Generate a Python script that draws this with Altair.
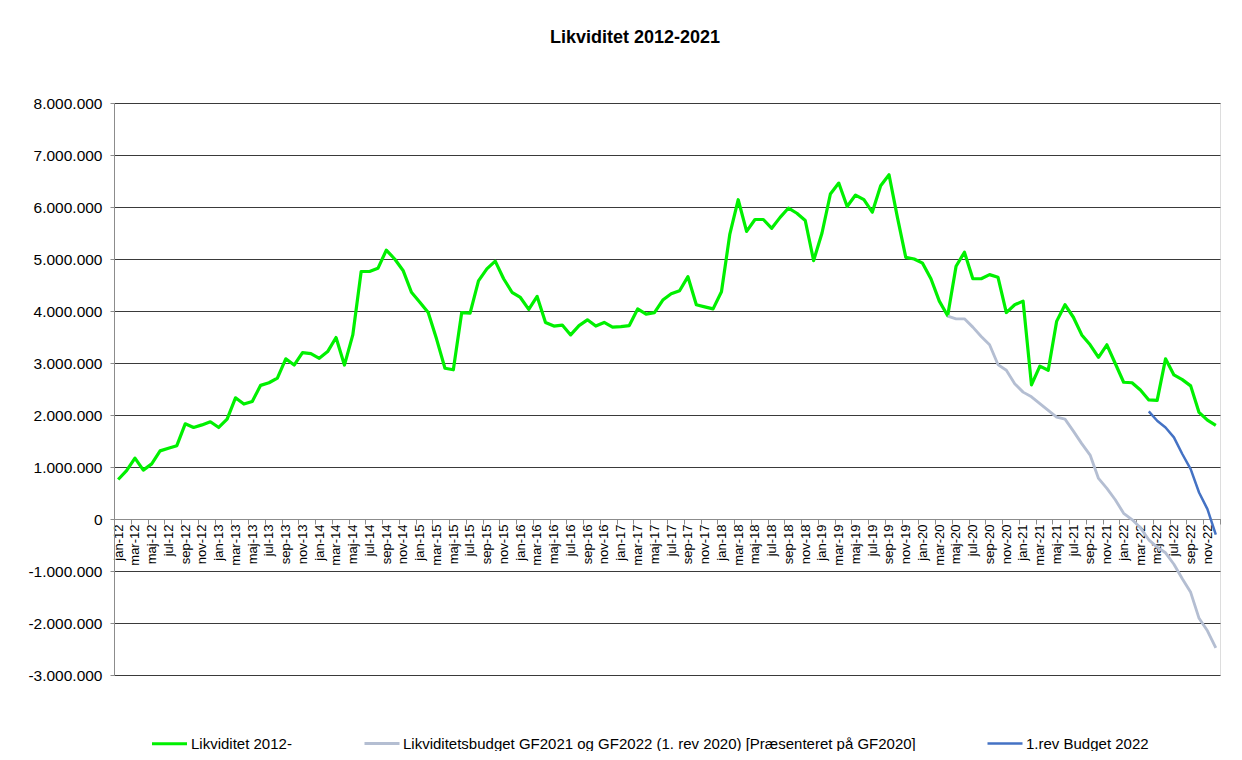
import json
import altair as alt
import pandas as pd

# ---------------- data ----------------
months_da = ["jan", "feb", "mar", "apr", "maj", "jun", "jul", "aug", "sep", "okt", "nov", "dec"]
years = [12, 13, 14, 15, 16, 17, 18, 19, 20, 21, 22]
month_labels = [f"{m}-{y}" for y in years for m in months_da]  # jan-12 .. dec-22

# Likviditet 2012- (mio. kr), jan-12 .. dec-22
likviditet = [
    0.76, 0.93, 1.17, 0.94, 1.06, 1.31, 1.36, 1.41, 1.83, 1.76, 1.81, 1.87,   # 2012
    1.76, 1.92, 2.33, 2.21, 2.26, 2.57, 2.62, 2.71, 3.08, 2.96, 3.20, 3.18,   # 2013
    3.09, 3.22, 3.49, 2.96, 3.54, 4.76, 4.76, 4.82, 5.17, 5.00, 4.78, 4.36,   # 2014
    4.17, 3.97, 3.46, 2.90, 2.87, 3.97, 3.96, 4.58, 4.81, 4.96, 4.62, 4.36,   # 2015
    4.26, 4.03, 4.28, 3.78, 3.71, 3.73, 3.54, 3.72, 3.83, 3.71, 3.78, 3.69,   # 2016
    3.70, 3.72, 4.04, 3.94, 3.97, 4.21, 4.33, 4.39, 4.66, 4.12, 4.08, 4.04,   # 2017
    4.37, 5.48, 6.14, 5.53, 5.76, 5.76, 5.59, 5.80, 5.98, 5.88, 5.74, 4.97,   # 2018
    5.50, 6.25, 6.46, 6.01, 6.23, 6.14, 5.90, 6.41, 6.62, 5.80, 5.03, 5.00,   # 2019
    4.92, 4.62, 4.19, 3.91, 4.86, 5.13, 4.62, 4.62, 4.70, 4.65, 3.97, 4.12,   # 2020
    4.19, 2.58, 2.94, 2.86, 3.80, 4.12, 3.88, 3.54, 3.35, 3.11, 3.35, 2.99,   # 2021
    2.63, 2.62, 2.48, 2.29, 2.28, 3.08, 2.77, 2.68, 2.56, 2.05, 1.90, 1.80,   # 2022
]

# Likviditetsbudget GF2021 og GF2022 (1. rev 2020), apr-20 .. dec-22
budget_start = "apr-20"
budget_gf2020 = [
    3.90, 3.85, 3.85, 3.69, 3.51, 3.35, 2.97, 2.86, 2.60,
    2.44, 2.35, 2.22, 2.09, 1.96, 1.92, 1.69, 1.45, 1.23, 0.78, 0.59, 0.37,
    0.11, -0.01, -0.17, -0.40, -0.54, -0.65, -0.87, -1.15, -1.41, -1.91, -2.15, -2.48,
]

# 1.rev Budget 2022, apr-22 .. dec-22
rev_start = "apr-22"
rev_budget_2022 = [2.07, 1.89, 1.76, 1.57, 1.25, 0.96, 0.51, 0.19, -0.30]

S1 = "Likviditet 2012-"
S2 = "Likviditetsbudget GF2021 og GF2022 (1. rev 2020) [Præsenteret på GF2020]"
S3 = "1.rev Budget 2022"

y_ticks = [-3e6, -2e6, -1e6, 0, 1e6, 2e6, 3e6, 4e6, 5e6, 6e6, 7e6, 8e6]

# ---------------- table ----------------
rows = []
def add(series, start_label, values):
    s = month_labels.index(start_label)
    for k, v in enumerate(values):
        i = s + k
        rows.append({"pos": i + 0.5, "month": month_labels[i], "value": v * 1e6, "series": series})

add(S1, "jan-12", likviditet)
add(S2, budget_start, budget_gf2020)
add(S3, rev_start, rev_budget_2022)
df = pd.DataFrame(rows)

n = len(month_labels)
tick_labels = month_labels[::2]
x_label_expr = "(" + json.dumps(tick_labels) + ")[datum.value / 2] || ''"
y_label_expr = "replace(replace(format(datum.value, ','), regexp(',', 'g'), '.'), '\u2212', '-')"

FONT = "Liberation Sans"
W, H = 1106, 572
zero_from_bottom = H * (0 - (-3e6)) / (8e6 - (-3e6))

lines = alt.Chart(df).mark_line(strokeJoin="round", strokeCap="butt").encode(
    x=alt.X(
        "pos:Q",
        scale=alt.Scale(domain=[0, n], nice=False, zero=False),
        axis=alt.Axis(
            values=list(range(0, n + 1, 2)),
            labelExpr=x_label_expr,
            labelAngle=270,
            labelAlign="right",
            labelBaseline="middle",
            labelOffset=4,
            labelPadding=0,
            labelFont=FONT,
            labelFontSize=13,
            labelColor="#000000",
            labelOverlap=False,
            labelFlush=False,
            tickSize=5,
            tickColor="#8c8c8c",
            domainColor="#8c8c8c",
            grid=False,
            title=None,
            offset=-zero_from_bottom,
        ),
    ),
    y=alt.Y(
        "value:Q",
        scale=alt.Scale(domain=[-3e6, 8e6], nice=False),
        axis=alt.Axis(
            values=y_ticks,
            labelExpr=y_label_expr,
            labelFont=FONT,
            labelFontSize=15.5,
            labelColor="#000000",
            labelPadding=8,
            tickSize=4,
            tickColor="#8c8c8c",
            domainColor="#8c8c8c",
            grid=True,
            gridColor="#3a3a3a",
            gridWidth=1,
            title=None,
        ),
    ),
    color=alt.Color(
        "series:N",
        scale=alt.Scale(domain=[S1, S2, S3], range=["#00f000", "#b4bed2", "#4472c4"]),
        legend=alt.Legend(
            title=None,
            orient="none",
            legendX=36,
            legendY=621,
            direction="horizontal",
            symbolType="stroke",
            symbolSize=1225,
            symbolStrokeWidth=3,
            labelFont=FONT,
            labelFontSize=15,
            labelColor="#000000",
            labelOffset=2,
            labelLimit=0,
            columnPadding=66,
        ),
    ),
    strokeWidth=alt.StrokeWidth(
        "series:N",
        scale=alt.Scale(domain=[S1, S2, S3], range=[3.2, 2.5, 2.2]),
        legend=None,
    ),
    detail="series:N",
)

chart = lines.properties(
    width=W,
    height=H,
    title=alt.TitleParams(
        "Likviditet 2012-2021",
        font=FONT,
        fontSize=18,
        fontWeight="bold",
        color="#000000",
        anchor="middle",
        frame="group",
        baseline="alphabetic",
        offset=35,
        dx=-32,
    ),
    autosize=alt.AutoSizeParams(type="none"),
    padding={"left": 106, "top": 95, "right": 10, "bottom": 76},
).configure_view(stroke=None).configure(background="#ffffff")

chart.save("out.html", embed_options={"renderer": "svg", "actions": False})
